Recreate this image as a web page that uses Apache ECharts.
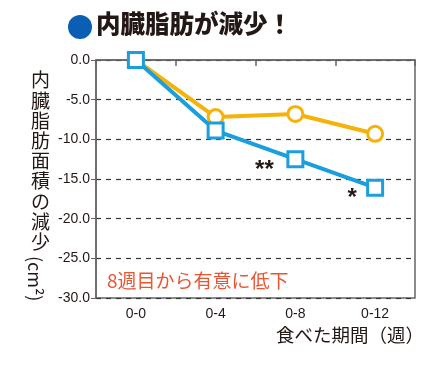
<!DOCTYPE html>
<html><head><meta charset="utf-8">
<script src="https://cdn.jsdelivr.net/npm/echarts@6/dist/echarts.min.js"></script>
<style>html,body{margin:0;padding:0;background:#fff}#c{width:444px;height:366px}</style>
</head><body><div id="c"></div>
<script>
const categories = ['0-0', '0-4', '0-8', '0-12'];
const seriesOrange = [0, -7.2, -6.8, -9.3];
const seriesBlue = [0, -8.9, -12.5, -16.1];
const blueMarks = ['', '', '**', '*'];
const yTicks = { min: -30, max: 0, interval: 5 };
const titleText = '内臓脂肪が減少！';
const yNameChars = '内臓脂肪面積の減少';
const yNameUnit = '(cm²)';
const xName = '食べた期間（週）';
const note = '8週目から有意に低下';

const JP = '"Noto Sans CJK JP", sans-serif';
const LAT = '"Liberation Sans", Arial, sans-serif';
const chart = echarts.init(document.getElementById('c'));
const blueData = seriesBlue.map((v, i) => {
  if (!blueMarks[i]) return v;
  const off = blueMarks[i] === '**' ? [-31, 11] : [-23, 11];
  return { value: v, label: { show: true, formatter: blueMarks[i], position: 'inside', offset: off,
    fontSize: 24, fontWeight: 'bold', color: '#231815', fontFamily: LAT } };
});
chart.setOption({
  animation: false,
  grid: { left: 96, right: 29, top: 60, bottom: 68, show: true, borderColor: '#666', borderWidth: 1.5, backgroundColor: 'transparent' },
  xAxis: {
    type: 'category', data: categories, boundaryGap: true,
    axisLine: { lineStyle: { color: '#666', width: 1.5 } },
    axisTick: { show: true, length: 6, lineStyle: { color: '#666', width: 1.5 } },
    axisLabel: { color: '#231815', fontSize: 14, fontFamily: LAT, margin: 9 }
  },
  yAxis: {
    type: 'value', min: yTicks.min, max: yTicks.max, interval: yTicks.interval,
    axisLine: { show: true, lineStyle: { color: '#666', width: 1.5 } },
    axisTick: { show: true, length: 5, lineStyle: { color: '#666' } },
    axisLabel: { color: '#231815', fontSize: 14, fontFamily: LAT, margin: 6, formatter: v => v.toFixed(1) },
    splitLine: { show: true, lineStyle: { color: '#333', type: [5, 5], width: 1.2 } }
  },
  series: [
    { type: 'line', data: seriesOrange, symbol: 'circle', symbolSize: 15,
      lineStyle: { color: '#f5b30a', width: 4 },
      itemStyle: { color: '#fff', borderColor: '#f5b30a', borderWidth: 3 }, z: 2 },
    { type: 'line', data: blueData, symbol: 'rect', symbolSize: 15,
      lineStyle: { color: '#1a9fdc', width: 4 },
      itemStyle: { color: '#fff', borderColor: '#1a9fdc', borderWidth: 3 }, z: 3 }
  ],
  graphic: [
    { type: 'circle', shape: { cx: 80, cy: 27, r: 12 }, style: { fill: '#0a5fb4' } },
    { type: 'text', left: 96, top: 11, style: { text: titleText, fontSize: 24.5, fontWeight: 900, fill: '#231815', fontFamily: JP } },
    { type: 'text', left: 31, top: 70, style: { text: yNameChars.split('').join('\n'), fontSize: 19, lineHeight: 20.2, fill: '#231815', fontFamily: JP, align: 'center' } },
    { type: 'text', x: 44, y: 256, rotation: -Math.PI / 2, style: { text: yNameUnit, fontSize: 18, fill: '#231815', fontFamily: JP } },
    { type: 'text', right: 20, top: 326, style: { text: xName, fontSize: 18.5, fill: '#231815', fontFamily: JP } },
    { type: 'text', left: 107, top: 271, style: { text: note, fontSize: 19, fill: '#ea5532', fontFamily: JP } }
  ]
});
</script></body></html>
